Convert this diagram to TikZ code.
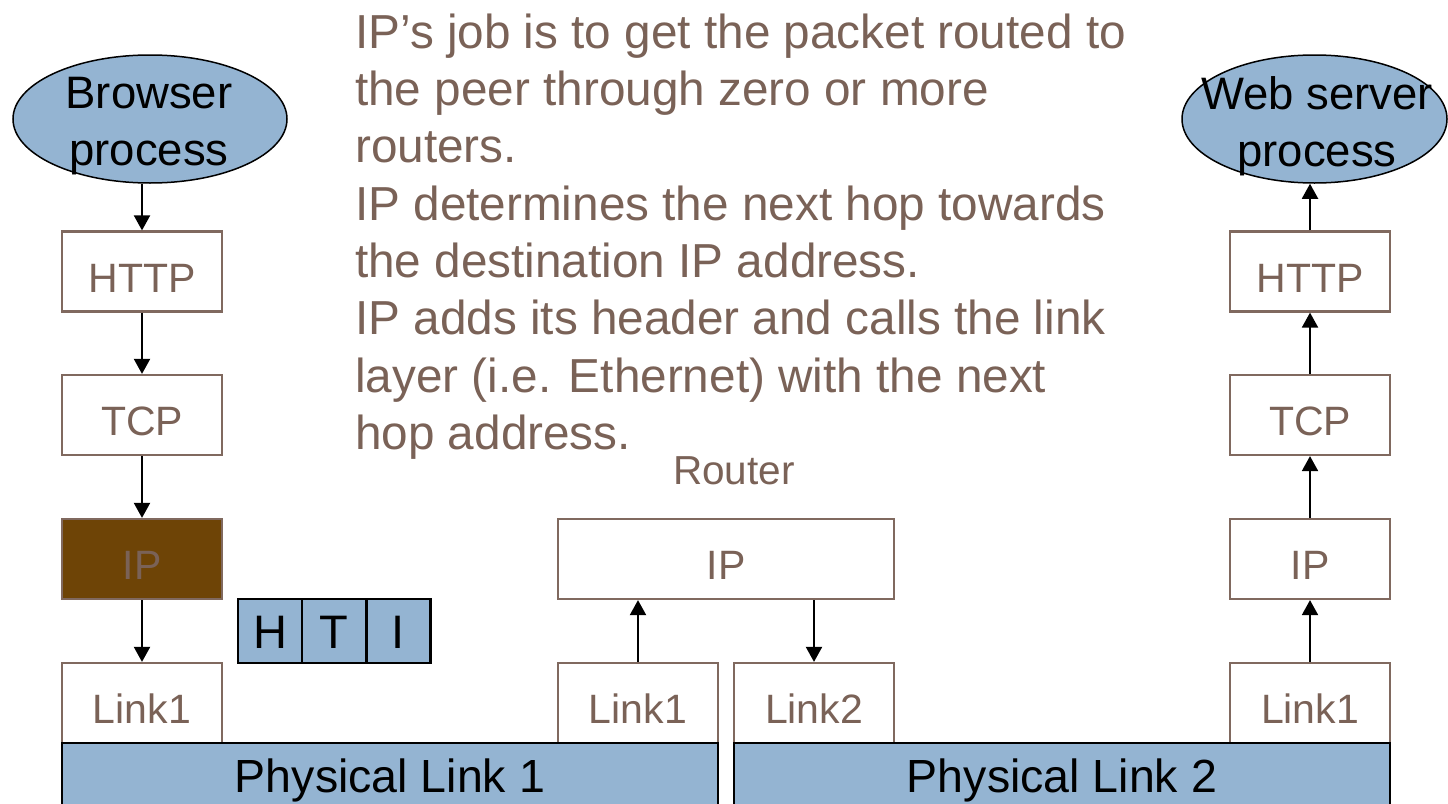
\documentclass[tikz,border=0pt]{standalone}
\usepackage{fontspec}
\setmainfont{Liberation Sans}
\usetikzlibrary{shapes.geometric,arrows.meta}
\definecolor{blu}{HTML}{94B4D2}
\definecolor{brn}{HTML}{6E4406}
\definecolor{txt}{HTML}{7A6257}
\definecolor{bord}{HTML}{80695F}
\begin{document}
\begin{tikzpicture}[x=1pt,y=-1pt,
  lay/.style={draw=bord, line width=2.2pt, minimum width=160pt, minimum height=80pt,
    inner sep=0pt, text=txt, font=\fontsize{41}{49}\selectfont, text height=41pt, text depth=0pt},
  proc/.style={ellipse, draw=black, line width=1.5pt, fill=blu, inner sep=0pt},
  ptext/.style={anchor=north, inner sep=0pt, align=center, text=black, font=\fontsize{45.5}{57}\selectfont},
  phys/.style={draw=black, line width=2.4pt, fill=blu, minimum width=656pt, minimum height=72pt,
    inner sep=0pt, text=black, font=\fontsize{46.5}{56}\selectfont, text height=26pt, text depth=0pt},
  cell/.style={draw=black, line width=2.4pt, fill=blu, minimum width=64pt, minimum height=64pt,
    inner sep=0pt, text=black, font=\fontsize{47}{56}\selectfont, text height=34pt, text depth=0pt},
  arr/.style={line width=2pt, -{Triangle[width=16pt,length=15pt]}}]
\clip (0,0) rectangle (1448,803);
\fill[white] (0,0) rectangle (1448,803);

% left ellipse
\node[proc, minimum width=274pt, minimum height=128pt] (brow) at (150,119) {};
\node[ptext] (browt) at (149,76.5) {Browser\\process};
% right ellipse
\node[proc, minimum width=265pt, minimum height=128pt] (web) at (1314.5,119) {};
\node[ptext] (webt) at (1317,76.5) {Web server\\process};

% paragraph
\node[anchor=north west, inner sep=0pt, align=left, text=txt,
      font=\fontsize{47.7}{57.3}\selectfont] (para) at (355,13.5)
  {IP’s job is to get the packet routed to\\
   the peer through zero or more\\
   routers.\\
   IP determines the next hop towards\\
   the destination IP address.\\
   IP adds its header and calls the link\\
   layer (i.e. Ethernet) with the next\\
   hop address.};

% left stack
\node[lay] (lhttp) at (142,271.5) {HTTP};
\node[lay] (ltcp) at (142,415) {TCP};
\node[lay, fill=brn] (lip) at (142,559) {IP};
\node[lay] (llink) at (142,703) {Link1};

% packet
\node[cell] (ch) at (270,631) {H};
\node[cell] (ct) at (334,631) {T};
\node[cell] (ci) at (398.5,631) {I};

% router
\node[anchor=base, inner sep=0pt, text=txt, font=\fontsize{40.5}{48}\selectfont] (rlab) at (734,484) {Router};
\node[lay, minimum width=336pt] (rip) at (726,559) {IP};
\node[lay] (rl1) at (638,703) {Link1};
\node[lay] (rl2) at (814,703) {Link2};

% right stack
\node[lay] (rhttp) at (1310,271.5) {HTTP};
\node[lay] (rtcp) at (1310,415) {TCP};
\node[lay] (rip2) at (1310,559) {IP};
\node[lay] (rlink) at (1310,703) {Link1};

% physical links
\node[phys] (ph1) at (390,779) {Physical Link 1};
\node[phys] (ph2) at (1062,779) {Physical Link 2};

% arrows left
\draw[arr] (brow.south -| lhttp.north) -- (lhttp.north);
\draw[arr] (lhttp.south) -- (ltcp.north);
\draw[arr] (ltcp.south) -- (lip.north);
\draw[arr] (lip.south) -- (llink.north);
% router arrows
\draw[arr] (rl1.north) -- (rl1.north |- rip.south);
\draw[arr] (rl2.north |- rip.south) -- (rl2.north);
% arrows right
\draw[arr] (rlink.north) -- (rip2.south);
\draw[arr] (rip2.north) -- (rtcp.south);
\draw[arr] (rtcp.north) -- (rhttp.south);
\draw[arr] (rhttp.north) -- (web.south -| rhttp.north);
\end{tikzpicture}
\end{document}
